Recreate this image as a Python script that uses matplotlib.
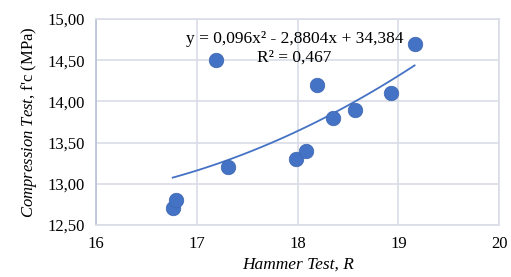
import numpy as np
import matplotlib
matplotlib.use("Agg")
import matplotlib.pyplot as plt

# Data
hammer = [16.76, 16.79, 17.19, 17.31, 17.98, 18.08, 18.19, 18.35, 18.57, 18.93, 19.16]
fc = [12.70, 12.80, 14.50, 13.20, 13.30, 13.40, 14.20, 13.80, 13.90, 14.10, 14.70]

# Trendline coefficients (from the chart's equation)
coef = [0.096, -2.8804, 34.384]
r2_text = "R² = 0,467"
eq_text = "y = 0,096x² - 2,8804x + 34,384"

xticks = [16, 17, 18, 19, 20]
yticks = [12.5, 13.0, 13.5, 14.0, 14.5, 15.0]
ytick_labels = ["12,50", "13,00", "13,50", "14,00", "14,50", "15,00"]

plt.rcParams['font.family'] = ['Liberation Serif', 'DejaVu Serif']
plt.rcParams['mathtext.fontset'] = 'custom'
plt.rcParams['mathtext.rm'] = 'Liberation Serif'
plt.rcParams['mathtext.it'] = 'Liberation Serif:italic'

fig = plt.figure(figsize=(5.11, 2.77), dpi=100)
ax = fig.add_axes([0.188, 0.188, 0.789, 0.743])

grid_col = '#d9dde6'
ax.set_xlim(16, 20)
ax.set_ylim(12.5, 15.0)
ax.set_xticks(xticks)
ax.set_yticks(yticks)
ax.set_yticklabels(ytick_labels)
ax.grid(True, color=grid_col, linewidth=1.2)
ax.set_axisbelow(True)
for s in ['top', 'right', 'bottom']:
    ax.spines[s].set_color(grid_col)
    ax.spines[s].set_linewidth(1.2)
ax.spines['left'].set_color('#b8c2d6')
ax.spines['left'].set_linewidth(1.2)
ax.tick_params(length=0, labelsize=12, pad=8)

# Trendline
xs = np.linspace(min(hammer), max(hammer), 100)
ax.plot(xs, np.polyval(coef, xs), color='#4472c4', linewidth=1.3, zorder=2)

ax.scatter(hammer, fc, s=110, color='#4472c4', edgecolors='#3d66b0',
           linewidths=0.5, zorder=3)

ax.text(17.97, 14.757, eq_text, fontsize=12.5, ha='center', va='center')
ax.text(17.97, 14.527, r2_text, fontsize=12.5, ha='center', va='center')

ax.set_xlabel('Hammer Test, R', fontsize=12.5, fontstyle='italic', labelpad=3)
ax.set_ylabel(r"$Compression\ Test$, f'c (MPa)", fontsize=12, labelpad=6)

fig.savefig('out.png', dpi=100)
